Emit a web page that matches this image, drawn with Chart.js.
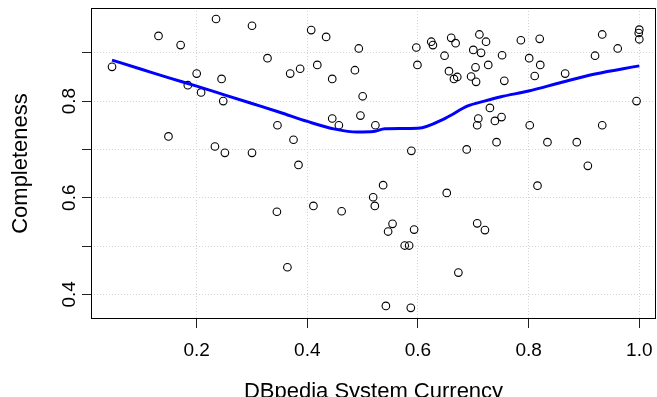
<!DOCTYPE html>
<html><head><meta charset="utf-8">
<script src="https://cdn.jsdelivr.net/npm/chart.js@4"></script>
<style>html,body{margin:0;padding:0;background:#fff}#wrap{width:657px;height:397px}</style>
</head><body><div id="wrap"><canvas id="c" width="657" height="397"></canvas></div>
<script>
// Observed points: DBpedia System Currency (x) vs Completeness (y)
const currency = [0.047,0.131,0.149,0.171,0.184,0.200,0.208,0.233,0.235,0.245,0.248,0.251,0.300,0.300,0.328,0.345,0.346,0.364,0.369,0.375,0.384,0.387,0.407,0.411,0.418,0.434,0.445,0.445,0.457,0.462,0.486,0.493,0.496,0.500,0.519,0.522,0.523,0.537,0.542,0.546,0.554,0.576,0.584,0.587,0.588,0.593,0.597,0.599,0.624,0.627,0.648,0.652,0.656,0.660,0.665,0.668,0.671,0.673,0.688,0.696,0.700,0.704,0.705,0.707,0.707,0.709,0.711,0.714,0.721,0.723,0.727,0.730,0.739,0.742,0.751,0.752,0.756,0.786,0.801,0.802,0.811,0.816,0.820,0.821,0.834,0.866,0.887,0.907,0.920,0.933,0.933,0.961,0.995,0.999,1.000,1.000];
const completeness = [0.871,0.935,0.727,0.916,0.833,0.857,0.818,0.706,0.970,0.846,0.800,0.693,0.956,0.693,0.889,0.571,0.750,0.456,0.857,0.720,0.668,0.867,0.947,0.583,0.875,0.933,0.846,0.764,0.750,0.572,0.864,0.909,0.770,0.810,0.601,0.583,0.750,0.626,0.376,0.530,0.546,0.501,0.501,0.372,0.697,0.534,0.911,0.875,0.923,0.916,0.894,0.610,0.862,0.931,0.846,0.920,0.850,0.445,0.700,0.851,0.906,0.870,0.840,0.750,0.547,0.764,0.938,0.900,0.533,0.923,0.875,0.786,0.759,0.715,0.767,0.895,0.842,0.926,0.889,0.750,0.852,0.625,0.929,0.875,0.715,0.857,0.715,0.666,0.894,0.938,0.750,0.909,0.800,0.941,0.948,0.928];
// Smoothed (loess) curve
const smoothX = [0.047,0.10,0.15,0.20,0.25,0.30,0.35,0.40,0.45,0.49,0.52,0.54,0.60,0.65,0.69,0.72,0.75,0.80,0.86,0.92,1.00];
const smoothY = [0.885,0.866,0.848,0.831,0.813,0.795,0.777,0.758,0.742,0.736,0.737,0.743,0.744,0.765,0.790,0.800,0.809,0.821,0.839,0.856,0.873];
const xTicks = [0.2,0.4,0.6,0.8,1.0];
const yTicks = [0.4,0.5,0.6,0.7,0.8,0.9];
const yLabeled = [0.4,0.6,0.8];
const xTitle = 'DBpedia System Currency';
const yTitle = 'Completeness';

const FONT = "'Liberation Sans', Arial, Helvetica, sans-serif";
const boxPlugin = {
  id: 'box',
  afterDatasetsDraw(chart) {
    const {ctx, chartArea: a} = chart;
    ctx.save();
    ctx.strokeStyle = '#000';
    ctx.lineWidth = 1;
    ctx.strokeRect(Math.round(a.left) + 0.5, Math.round(a.top) + 0.5,
                   Math.round(a.right - a.left) - 1, Math.round(a.bottom - a.top) - 1);
    ctx.restore();
  }
};
const noPad = s => { s.paddingLeft = 0; s.paddingRight = 0; s.paddingTop = 0; s.paddingBottom = 0; };
const gridCommon = {
  color: '#d4d4d4', lineWidth: 1, borderDash: [1, 2],
  tickLength: 9, tickColor: '#222', tickWidth: 1, tickBorderDash: [], drawTicks: true, drawOnChartArea: true
};
new Chart(document.getElementById('c'), {
  type: 'scatter',
  data: {
    datasets: [
      {
        type: 'line',
        data: smoothX.map((x, i) => ({x, y: smoothY[i]})),
        borderColor: '#0000ff', borderWidth: 3, pointRadius: 0, fill: false,
        cubicInterpolationMode: 'monotone', order: 0
      },
      {
        data: currency.map((x, i) => ({x, y: completeness[i]})),
        pointRadius: 3.8, pointStyle: 'circle', borderColor: '#000',
        backgroundColor: 'rgba(0,0,0,0)', borderWidth: 1.1, order: 1
      }
    ]
  },
  options: {
    responsive: false, animation: false, events: [],
    layout: {autoPadding: false, padding: {top: 8, right: 1, left: 0, bottom: 0}},
    plugins: {legend: {display: false}, tooltip: {enabled: false}},
    scales: {
      x: {
        type: 'linear', position: 'bottom', min: 0.009, max: 1.0302,
        afterBuildTicks: s => { s.ticks = xTicks.map(v => ({value: v})); },
        afterFit: s => { s.height = 78; noPad(s); },
        grid: gridCommon,
        border: {display: false, dash: [1, 2]},
        ticks: {color: '#000', font: {family: FONT, size: 19}, padding: 11, maxRotation: 0, minRotation: 0,
                autoSkip: false, callback: v => Number(v).toFixed(1)},
        title: {display: true, text: xTitle, color: '#000', font: {family: FONT, size: 22, lineHeight: 1},
                padding: {top: 0, bottom: -6}}
      },
      y: {
        type: 'linear', position: 'left', min: 0.3489, max: 0.9928,
        afterBuildTicks: s => { s.ticks = yTicks.map(v => ({value: v})); },
        afterFit: s => { s.width = 91; noPad(s); },
        grid: gridCommon,
        border: {display: false, dash: [1, 2]},
        ticks: {color: '#000', font: {family: FONT, size: 19}, padding: -1, minRotation: 90, maxRotation: 90,
                crossAlign: 'center', autoSkip: false,
                callback: v => yLabeled.some(l => Math.abs(l - v) < 1e-9) ? Number(v).toFixed(1) : ''},
        title: {display: true, text: yTitle, color: '#000', font: {family: FONT, size: 22, lineHeight: 1},
                padding: {top: 10, bottom: 0}}
      }
    }
  },
  plugins: [boxPlugin]
});
</script>
</body></html>
